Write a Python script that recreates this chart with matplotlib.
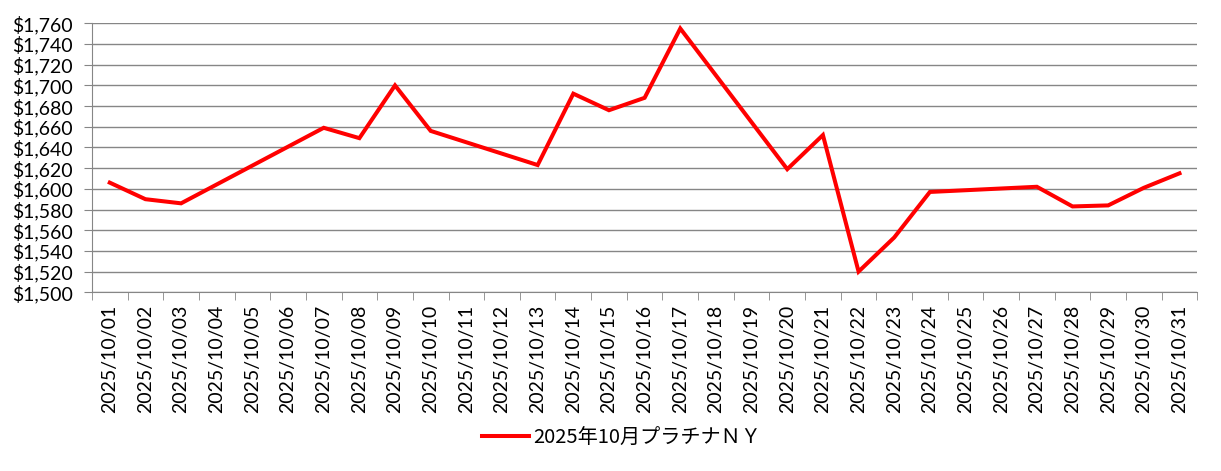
import numpy as np
import matplotlib
matplotlib.use('Agg')
import matplotlib.pyplot as plt
from matplotlib.ticker import FuncFormatter, FixedLocator

# daily dates for October 2025
dates = [f'2025/10/{d:02d}' for d in range(1, 32)]

# NY platinum price, None = no quote that day (line just connects over it)
prices = [1606, 1590, 1586, None, None, None, 1659, 1649, 1700, 1656,
          None, None, 1623, 1692, 1676, 1688, 1755, None, None, 1619,
          1652, 1520, 1553, 1597, None, None, 1602, 1583, 1584, 1601,
          1615]

series_label = '2025年10月プラチナＮＹ'

plt.rcParams['font.family'] = ['Lato', 'Noto Sans CJK JP', 'DejaVu Sans']

fig = plt.figure(figsize=(12.21, 4.71), dpi=100)
ax = fig.add_axes([0.0753, 0.3794, 0.9053, 0.5711])

x = np.arange(len(dates))
y = np.array([np.nan if p is None else p for p in prices], dtype=float)
ok = ~np.isnan(y)
ax.plot(x[ok], y[ok], color='#FF0000', lw=2.9, solid_joinstyle='miter',
        label=series_label, zorder=3)

ax.set_xlim(-0.5, len(dates) - 0.5)
ax.set_ylim(1500, 1760)
ax.set_yticks(np.arange(1500, 1761, 20))
ax.yaxis.set_major_formatter(FuncFormatter(lambda v, p: f'${v:,.0f}'))
ax.grid(axis='y', color='#868686', lw=1)
ax.set_axisbelow(True)

# category labels centred, tick marks on the boundaries
ax.set_xticks(x)
ax.set_xticklabels(dates, rotation=90)
ax.tick_params(axis='x', which='major', length=0, pad=9)
ax.xaxis.set_minor_locator(FixedLocator(np.arange(-0.5, len(dates), 1)))
ax.tick_params(axis='x', which='minor', length=6, color='#868686')
ax.tick_params(axis='y', length=6, color='#868686', pad=8)
ax.tick_params(labelsize=14)

for s in ['top', 'right']:
    ax.spines[s].set_visible(False)
for s in ['left', 'bottom']:
    ax.spines[s].set_color('#868686')

leg = fig.legend(loc='center', bbox_to_anchor=(0.509, 0.07), frameon=False,
                 handlelength=2.3, handletextpad=0.2,
                 prop={'family': ['Noto Sans CJK JP', 'DejaVu Sans'], 'size': 14.5})

fig.savefig('out.png', dpi=100)
